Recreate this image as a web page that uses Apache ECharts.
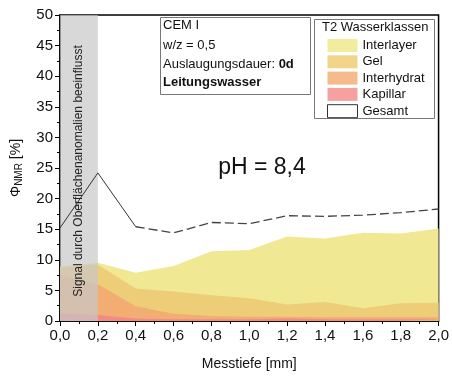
<!DOCTYPE html>
<html>
<head>
<meta charset="utf-8">
<script src="https://cdn.jsdelivr.net/npm/echarts@6/dist/echarts.min.js"></script>
<style>
  html, body { margin: 0; padding: 0; background: #fff; }
  #chart { width: 452px; height: 376px; }
</style>
</head>
<body>
<div id="chart"></div>
<script>
// Messtiefe [mm]
const depth = [0.0, 0.2, 0.4, 0.6, 0.8, 1.0, 1.2, 1.4, 1.6, 1.8, 2.0]

// T2 Wasserklassen (Anteile in %, von unten nach oben gestapelt)
const kapillar    = [1.3, 1.0, 0.4, 0.3, 0.3, 0.3, 0.4, 0.3, 0.3, 0.3, 0.3]
const interhydrat = [6.2, 5.0, 2.0, 0.9, 0.5, 0.4, 0.3, 0.3, 0.3, 0.3, 0.3]
const gel         = [1.2, 3.2, 2.9, 3.6, 3.4, 3.0, 2.0, 2.5, 1.5, 2.3, 2.4]
const interlayer  = [0.2, 0.3, 2.6, 4.2, 7.2, 7.9, 11.1, 10.4, 12.3, 11.4, 12.1]
const gesamt      = [15.2, 24.2, 15.4, 14.4, 16.1, 15.9, 17.2, 17.1, 17.3, 17.7, 18.3]

const infoLines = ['CEM I', 'w/z = 0,5', 'Auslaugungsdauer: ', 'Leitungswasser']

const font = 'Liberation Sans, Arial, sans-serif'
const pairs = (vals) => depth.map((d, i) => [d, vals[i]])

// Stapel selbst aufsummieren (Stack auf zwei value-Achsen stapelt sonst in x)
const addUp = (...lists) => depth.map((_, i) => +lists.reduce((s, l) => s + l[i], 0).toFixed(2))
const topKapillar = addUp(kapillar)
const topInterhydrat = addUp(kapillar, interhydrat)
const topGel = addUp(kapillar, interhydrat, gel)
const topInterlayer = addUp(kapillar, interhydrat, gel, interlayer)

const colors = {
  Interlayer: '#f1e893',
  Gel: '#eecd78',
  Interhydrat: '#f2ad72',
  Kapillar: '#f48a84'
}

const chart = echarts.init(document.getElementById('chart'))

const areaSeries = (name, tops) => ({
  name,
  type: 'line',
  data: pairs(tops),
  symbol: 'none',
  lineStyle: { width: 0 },
  areaStyle: { color: colors[name], opacity: 1 },
  itemStyle: { color: colors[name] },
  z: 2
})

const option = {
  animation: false,
  backgroundColor: '#fff',
  grid: {
    left: 60, right: 13, top: 15, bottom: 54,
    show: true, borderColor: '#000', borderWidth: 1.5
  },
  legend: {
    orient: 'vertical',
    left: 322,
    top: 34,
    itemWidth: 30,
    itemHeight: 13,
    itemGap: 3.3,
    textStyle: { fontFamily: font, fontSize: 13, color: '#111' },
    data: [
      { name: 'Interlayer', icon: 'rect', itemStyle: { color: '#f2ec9e' } },
      { name: 'Gel', icon: 'rect', itemStyle: { color: '#f2d48a' } },
      { name: 'Interhydrat', icon: 'rect', itemStyle: { color: '#f6bb8a' } },
      { name: 'Kapillar', icon: 'rect', itemStyle: { color: '#f6a0a0' } },
      { name: 'Gesamt', icon: 'rect', itemStyle: { color: '#fff', borderColor: '#333', borderWidth: 1 } }
    ]
  },
  xAxis: {
    type: 'value',
    min: 0, max: 2, interval: 0.2,
    name: 'Messtiefe [mm]',
    nameLocation: 'middle',
    nameGap: 36,
    nameTextStyle: { fontFamily: font, fontSize: 14, color: '#111' },
    axisLine: { lineStyle: { color: '#000', width: 1.5 } },
    axisTick: { inside: false, length: 5, lineStyle: { color: '#000', width: 1 } },
    minorTick: { show: true, splitNumber: 2, length: 3, lineStyle: { color: '#000' } },
    axisLabel: {
      fontFamily: font, fontSize: 15, color: '#111', margin: 7,
      formatter: v => v.toFixed(1).replace('.', ',')
    },
    splitLine: { show: false }
  },
  yAxis: {
    type: 'value',
    min: 0, max: 50, interval: 5,
    name: '{p|Φ}{s|NMR}{p| [%]}',
    nameLocation: 'middle',
    nameGap: 36,
    nameTextStyle: {
      fontFamily: font, color: '#111',
      rich: {
        p: { fontFamily: font, fontSize: 14, color: '#111' },
        s: { fontFamily: font, fontSize: 10, color: '#111', verticalAlign: 'bottom', padding: [6, 0, 0, 0] }
      }
    },
    axisLine: { show: true, lineStyle: { color: '#000', width: 1.5 } },
    axisTick: { show: true, inside: false, length: 5, lineStyle: { color: '#000', width: 1 } },
    minorTick: { show: true, splitNumber: 2, length: 3, lineStyle: { color: '#000' } },
    axisLabel: { fontFamily: font, fontSize: 15, color: '#111', margin: 7 },
    splitLine: { show: false }
  },
  series: [
    // oberste Summe zuerst, darunterliegende Klassen werden darüber gemalt
    areaSeries('Interlayer', topInterlayer),
    areaSeries('Gel', topGel),
    areaSeries('Interhydrat', topInterhydrat),
    areaSeries('Kapillar', topKapillar),
    {
      // grauer Bereich 0 - 0,2 mm, liegt über den Flächen
      name: 'band',
      type: 'line',
      data: [],
      z: 8,
      silent: true,
      markArea: {
        silent: true,
        z: 8,
        itemStyle: { color: 'rgba(200,200,200,0.7)' },
        data: [[{ xAxis: 0 }, { xAxis: 0.2 }]]
      }
    },
    {
      name: 'Gesamt',
      type: 'line',
      data: pairs(gesamt).slice(0, 3),
      symbol: 'none',
      lineStyle: { color: '#333', width: 1 },
      itemStyle: { color: '#333' },
      z: 10
    },
    {
      name: 'Gesamt',
      type: 'line',
      data: pairs(gesamt).slice(2),
      symbol: 'none',
      lineStyle: { color: '#444', width: 1.3, type: [9, 4] },
      itemStyle: { color: '#444' },
      z: 10
    }
  ],
  graphic: [
    {
      type: 'text',
      z: 100,
      x: 79, y: 171,
      rotation: Math.PI / 2,
      style: {
        text: 'Signal durch Oberflächenanomalien beeinflusst',
        font: '12px ' + font,
        fill: '#222',
        align: 'center',
        verticalAlign: 'middle'
      }
    },
    {
      type: 'rect',
      z: 100,
      shape: { x: 160.5, y: 17.5, width: 150, height: 77 },
      style: { fill: '#fff', stroke: '#777', lineWidth: 1 }
    },
    {
      type: 'text', z: 101, x: 163, y: 25,
      style: { text: infoLines[0], font: '13px ' + font, fill: '#111', verticalAlign: 'middle' }
    },
    {
      type: 'text', z: 101, x: 163, y: 45,
      style: { text: infoLines[1], font: '13px ' + font, fill: '#111', verticalAlign: 'middle' }
    },
    {
      type: 'text', z: 101, x: 163, y: 64,
      style: {
        text: '{n|' + infoLines[2] + '}{b|0d}',
        fill: '#111', verticalAlign: 'middle',
        rich: {
          n: { font: '13px ' + font, fill: '#111' },
          b: { font: 'bold 13px ' + font, fill: '#111' }
        }
      }
    },
    {
      type: 'text', z: 101, x: 163, y: 82,
      style: { text: infoLines[3], font: 'bold 13px ' + font, fill: '#111', verticalAlign: 'middle' }
    },
    {
      type: 'rect',
      z: 0,
      shape: { x: 314.5, y: 19.5, width: 120, height: 99 },
      style: { fill: '#fff', stroke: '#777', lineWidth: 1 }
    },
    {
      type: 'text', z: 101, x: 322, y: 27,
      style: { text: 'T2 Wasserklassen', font: '13px ' + font, fill: '#111', verticalAlign: 'middle' }
    },
    {
      type: 'text', z: 101, x: 262, y: 168,
      style: { text: 'pH = 8,4', font: '23px ' + font, fill: '#111', align: 'center', verticalAlign: 'middle' }
    }
  ]
}

chart.setOption(option)
</script>
</body>
</html>
